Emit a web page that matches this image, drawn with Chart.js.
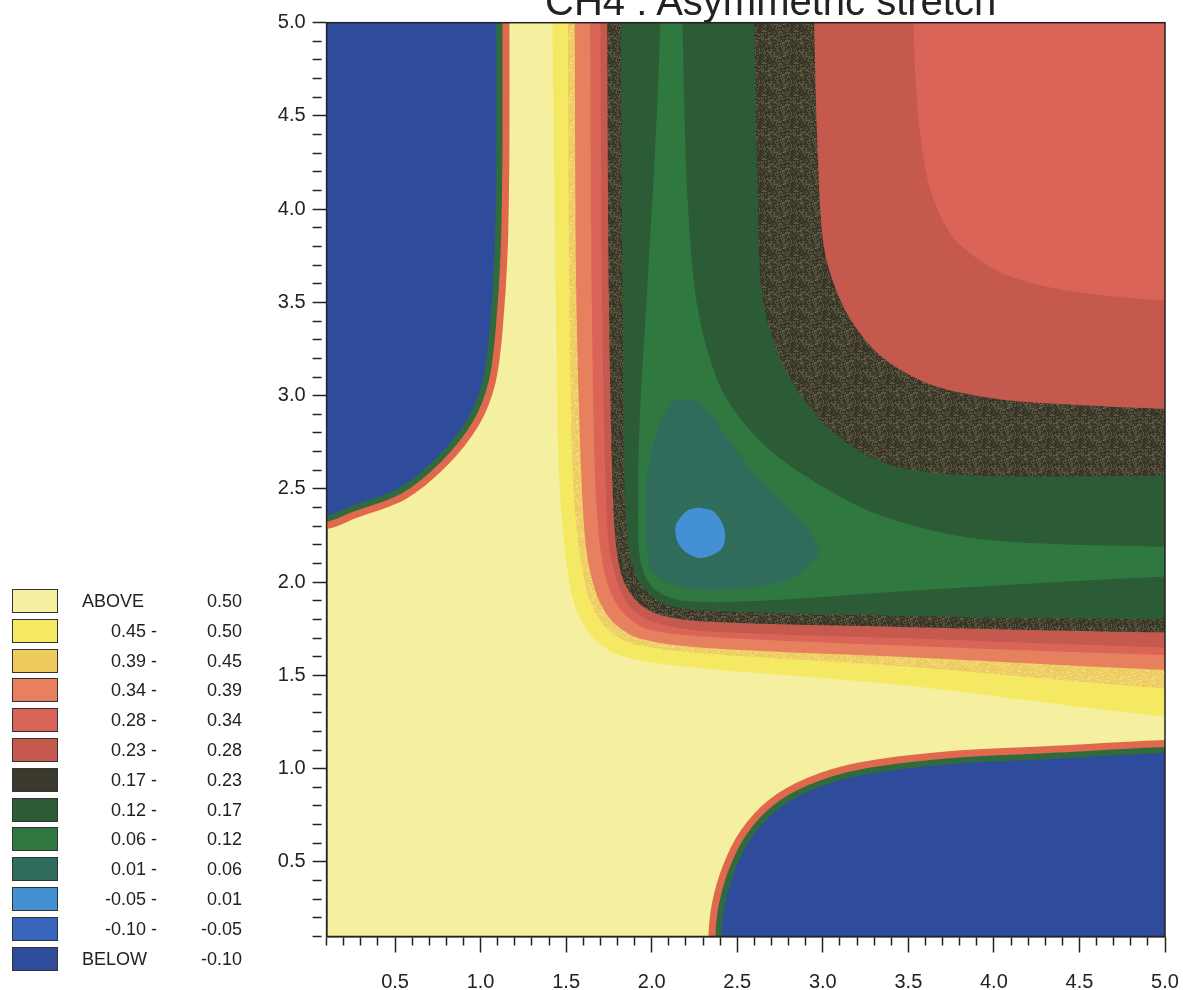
<!DOCTYPE html>
<html>
<head>
<meta charset="utf-8">
<script src="https://cdn.jsdelivr.net/npm/chart.js@4"></script>
<style>
  html, body { margin: 0; padding: 0; background: #fff; }
  #wrap { position: relative; width: 1183px; height: 990px; overflow: hidden;
          font-family: "Liberation Sans", Arial, sans-serif; color: #222; }
  #chart { position: absolute; left: 0; top: 0; }
  #title { position: absolute; left: 545px; top: -21px; font-size: 40px; white-space: nowrap; color: #222; }
  .key { position: absolute; left: 0; width: 260px; height: 30px; font-size: 18px; }
  .key .sw { position: absolute; left: 12px; top: 0; width: 44px; height: 22px; border: 1.5px solid #333; }
  .key .lo { position: absolute; top: 0; line-height: 25px; white-space: pre; }
  .key .hi { position: absolute; top: 0; right: 18px; line-height: 25px; }
</style>
</head>
<body>
<div id="wrap">
  <canvas id="chart" width="1183" height="990"></canvas>
  <div id="title">CH4 : Asymmetric stretch</div>
  <div id="key"></div>
</div>
<script>
// contour levels (upper bound of each band) and band colours, top to bottom
const levels = [0.50, 0.45, 0.39, 0.34, 0.28, 0.23, 0.17, 0.12, 0.06, 0.01, -0.05, -0.10];
const levelColors = ['#f5efa0', '#f5e862', '#eecb5e', '#e6805e', '#db6458', '#c6594e',
                     '#3b392d', '#2c5c35', '#2f7940', '#2f6c5b', '#4490d5', '#3865bd', '#2f4b9b'];

// axis ticks
const xTicks = [0.5, 1.0, 1.5, 2.0, 2.5, 3.0, 3.5, 4.0, 4.5, 5.0];
const yTicks = [0.5, 1.0, 1.5, 2.0, 2.5, 3.0, 3.5, 4.0, 4.5, 5.0];

// contour lines as [r1, r2] points
// walls of the valley: from the top edge round the corner to the right edge
const wall50 = [[1.42,5.0],[1.44,3.51],[1.46,2.55],[1.50,2.12],[1.56,1.85],[1.67,1.69],[1.84,1.60],[2.28,1.54],[3.45,1.45],[5.0,1.28]];
const wall45 = [[1.51,5.0],[1.52,3.51],[1.54,2.55],[1.58,2.15],[1.64,1.90],[1.74,1.75],[1.89,1.67],[2.28,1.62],[3.45,1.55],[5.0,1.43]];
const wall39 = [[1.55,5.0],[1.56,3.51],[1.59,2.55],[1.62,2.16],[1.68,1.93],[1.77,1.79],[1.92,1.70],[2.28,1.65],[3.45,1.60],[5.0,1.53]];
const wall34 = [[1.64,5.0],[1.65,3.51],[1.67,2.55],[1.70,2.18],[1.75,1.97],[1.83,1.84],[1.97,1.75],[2.28,1.71],[3.45,1.66],[5.0,1.61]];
const wall28 = [[1.70,5.0],[1.71,3.51],[1.73,2.55],[1.75,2.20],[1.80,2.00],[1.87,1.87],[2.00,1.79],[2.28,1.74],[3.45,1.70],[5.0,1.65]];
const wall23 = [[1.74,5.0],[1.75,3.51],[1.77,2.55],[1.79,2.21],[1.83,2.02],[1.91,1.90],[2.03,1.83],[2.28,1.79],[3.45,1.76],[5.0,1.73]];
const wall17 = [[1.82,5.0],[1.83,3.51],[1.84,2.55],[1.86,2.23],[1.90,2.05],[1.97,1.95],[2.08,1.88],[2.28,1.85],[3.45,1.82],[5.0,1.80]];
const wall12 = [[2.05,5.0],[2.02,4.32],[1.97,3.51],[1.93,2.87],[1.92,2.33],[1.94,2.09],[2.02,1.96],[2.19,1.90],[2.63,1.90],[3.45,1.95],[5.0,2.03]];
// plateau side of the valley, same direction
const plat12 = [[2.18,5.0],[2.21,4.05],[2.27,3.46],[2.41,3.03],[2.63,2.76],[2.93,2.55],[3.33,2.36],[3.92,2.23],[5.0,2.19]];
const plat17 = [[2.60,5.0],[2.62,4.05],[2.65,3.51],[2.78,3.14],[3.04,2.82],[3.39,2.63],[3.92,2.57],[5.0,2.57]];
const plat23 = [[2.95,5.0],[2.97,4.32],[3.01,3.78],[3.13,3.46],[3.33,3.22],[3.63,3.06],[4.04,2.98],[4.50,2.95],[5.0,2.93]];
const plat28 = [[3.53,5.0],[3.56,4.48],[3.63,4.10],[3.77,3.84],[4.04,3.66],[4.39,3.57],[5.0,3.51]];
// closed contours round the minimum
const loop06 = [[2.12,2.97],[2.27,2.97],[2.44,2.78],[2.63,2.55],[2.84,2.36],[2.98,2.18],[2.95,2.12],[2.79,2.01],[2.55,1.97],[2.28,1.96],[2.08,2.00],[1.99,2.08],[1.97,2.28],[1.97,2.55],[2.01,2.74],[2.06,2.88],[2.12,2.97]];
const loop01 = [[2.28,2.40],[2.36,2.38],[2.41,2.32],[2.43,2.25],[2.41,2.18],[2.34,2.14],[2.27,2.13],[2.20,2.16],[2.15,2.22],[2.14,2.30],[2.18,2.36],[2.22,2.39],[2.28,2.40]];
// -0.10 contours of the two dissociation wells
const wellTopLeft = [[1.11,5.0],[1.11,4.32],[1.10,3.78],[1.07,3.35],[1.03,3.08],[0.94,2.87],[0.76,2.66],[0.53,2.49],[0.24,2.39],[0.1,2.34]];
const wellBottomRight = [[2.39,0.1],[2.41,0.27],[2.47,0.46],[2.57,0.64],[2.72,0.79],[2.93,0.90],[3.22,0.98],[3.74,1.04],[4.39,1.07],[5.0,1.10]];

// polygons are pushed past the axes so their edges get clipped away
const EDGE = 5.4, LOW = -0.2;
const last = c => c[c.length - 1];
const topToRight = c => [[c[0][0], EDGE], ...c, [EDGE, last(c)[1]]];
const basin = wall => [...topToRight(wall), [EDGE, EDGE]];
const band = (wall, plat) => [...topToRight(wall), ...topToRight(plat).reverse()];
const wellTL = [[wellTopLeft[0][0], EDGE], ...wellTopLeft, [LOW, last(wellTopLeft)[1]], [LOW, EDGE]];
const wellBR = [[wellBottomRight[0][0], LOW], ...wellBottomRight, [EDGE, last(wellBottomRight)[1]], [EDGE, LOW]];

const isMajor = v => Math.abs(v * 2 - Math.round(v * 2)) < 1e-6;

function speckle(base, dot, share) {
  const c = document.createElement('canvas');
  c.width = c.height = 32;
  const g = c.getContext('2d');
  g.fillStyle = base;
  g.fillRect(0, 0, 32, 32);
  g.fillStyle = dot;
  for (let i = 0; i < 32; i++) {
    for (let j = 0; j < 32; j++) {
      const h = Math.abs(Math.sin(i * 12.9898 + j * 78.233) * 43758.5453) % 1;
      if (h < share) g.fillRect(i, j, 1, 1);
    }
  }
  return g.createPattern(c, 'repeat');
}

const ctx = document.getElementById('chart').getContext('2d');
const fills = levelColors.slice();
fills[2] = speckle('#eecb5e', '#f3dc84', 0.25);
fills[6] = speckle('#38362a', '#615c3e', 0.3);

// painted bottom to top
const layers = [
  {pts: basin(wall50), color: fills[1]},
  {pts: basin(wall45), color: fills[2]},
  {pts: basin(wall39), color: fills[3]},
  {pts: basin(wall34), color: fills[4]},
  {pts: band(wall28, plat28), color: fills[5]},
  {pts: band(wall23, plat23), color: fills[6]},
  {pts: band(wall17, plat17), color: fills[7]},
  {pts: band(wall12, plat12), color: fills[8]},
  {pts: loop06, color: fills[9]},
  {pts: loop01, color: fills[10]},
  {pts: wellTL, color: '#e0684c', rim: 20},
  {pts: wellTL, color: fills[12], edge: '#2f6b3c'},
  {pts: wellBR, color: '#e0684c', rim: 20},
  {pts: wellBR, color: fills[12], edge: '#2f6b3c'}
];

const datasets = layers.map((l, i) => ({
  data: l.pts.map(([x, y]) => ({x, y})),
  backgroundColor: l.color,
  borderColor: l.rim ? l.color : (l.edge || 'transparent'),
  borderWidth: l.rim ? l.rim : (l.edge ? 6 : 0),
  fill: l.rim ? false : 'shape',
  pointRadius: 0,
  pointHitRadius: 0,
  tension: 0.3,
  clip: 0,
  order: layers.length - i
}));

const plotBackground = {
  id: 'plotBackground',
  beforeDraw(chart) {
    const {ctx, chartArea: a} = chart;
    ctx.save();
    ctx.fillStyle = levelColors[0];
    ctx.fillRect(a.left, a.top, a.right - a.left, a.bottom - a.top);
    ctx.restore();
  }
};

const frame = {
  id: 'frame',
  afterDatasetsDraw(chart) {
    const {ctx, chartArea: a} = chart;
    ctx.save();
    ctx.strokeStyle = '#222';
    ctx.lineWidth = 1.5;
    ctx.strokeRect(a.left, a.top, a.right - a.left, a.bottom - a.top);
    ctx.restore();
  }
};

const axisFont = {family: '"Liberation Sans", Arial, sans-serif', size: 20};

new Chart(ctx, {
  type: 'line',
  data: {datasets},
  options: {
    responsive: false,
    animation: false,
    events: [],
    devicePixelRatio: 1,
    layout: {padding: {left: 266.6, top: 22.7, right: 18, bottom: 0}},
    elements: {line: {capBezierPoints: false}},
    plugins: {legend: {display: false}, tooltip: {enabled: false}, title: {display: false}},
    scales: {
      x: {
        type: 'linear', position: 'bottom', min: 0.1, max: 5.0,
        afterFit: s => { s.height = 53.5; s.paddingLeft = 0; s.paddingRight = 0; },
        ticks: {
          stepSize: 0.1, autoSkip: false, maxRotation: 0, padding: 18,
          color: '#222', font: axisFont,
          callback: v => (isMajor(v) && xTicks.some(t => Math.abs(t - v) < 1e-6)) ? v.toFixed(1) : ''
        },
        grid: {
          drawOnChartArea: false, tickLength: 16, tickColor: '#222', tickWidth: 1.5,
          tickBorderDash: c => isMajor(c.tick.value) ? [] : [8, 200]
        },
        border: {display: true, color: '#222', width: 1.5}
      },
      y: {
        type: 'linear', position: 'left', min: 0.1, max: 5.0,
        afterFit: s => { s.width = 60; s.paddingTop = 0; s.paddingBottom = 0; },
        ticks: {
          stepSize: 0.1, autoSkip: false, padding: 7,
          color: '#222', font: axisFont,
          callback: v => (isMajor(v) && yTicks.some(t => Math.abs(t - v) < 1e-6)) ? v.toFixed(1) : ''
        },
        grid: {
          drawOnChartArea: false, tickLength: 14, tickColor: '#222', tickWidth: 1.5,
          tickBorderDash: c => isMajor(c.tick.value) ? [] : [9, 200]
        },
        border: {display: true, color: '#222', width: 1.5}
      }
    }
  },
  plugins: [plotBackground, frame]
});

// level key on the left
const key = document.getElementById('key');
levelColors.forEach((col, i) => {
  const row = document.createElement('div');
  row.className = 'key';
  row.style.top = (589 + i * 29.8) + 'px';
  const sw = document.createElement('div');
  sw.className = 'sw';
  sw.style.background = col;
  const lo = document.createElement('span');
  lo.className = 'lo';
  const hi = document.createElement('span');
  hi.className = 'hi';
  if (i === 0) {
    lo.textContent = 'ABOVE'; lo.style.left = '82px';
    hi.textContent = levels[0].toFixed(2);
  } else if (i === levelColors.length - 1) {
    lo.textContent = 'BELOW'; lo.style.left = '82px';
    hi.textContent = levels[levels.length - 1].toFixed(2);
  } else {
    lo.textContent = levels[i].toFixed(2) + ' -'; lo.style.right = '103px';
    hi.textContent = levels[i - 1].toFixed(2);
  }
  row.append(sw, lo, hi);
  key.appendChild(row);
});
</script>
</body>
</html>
